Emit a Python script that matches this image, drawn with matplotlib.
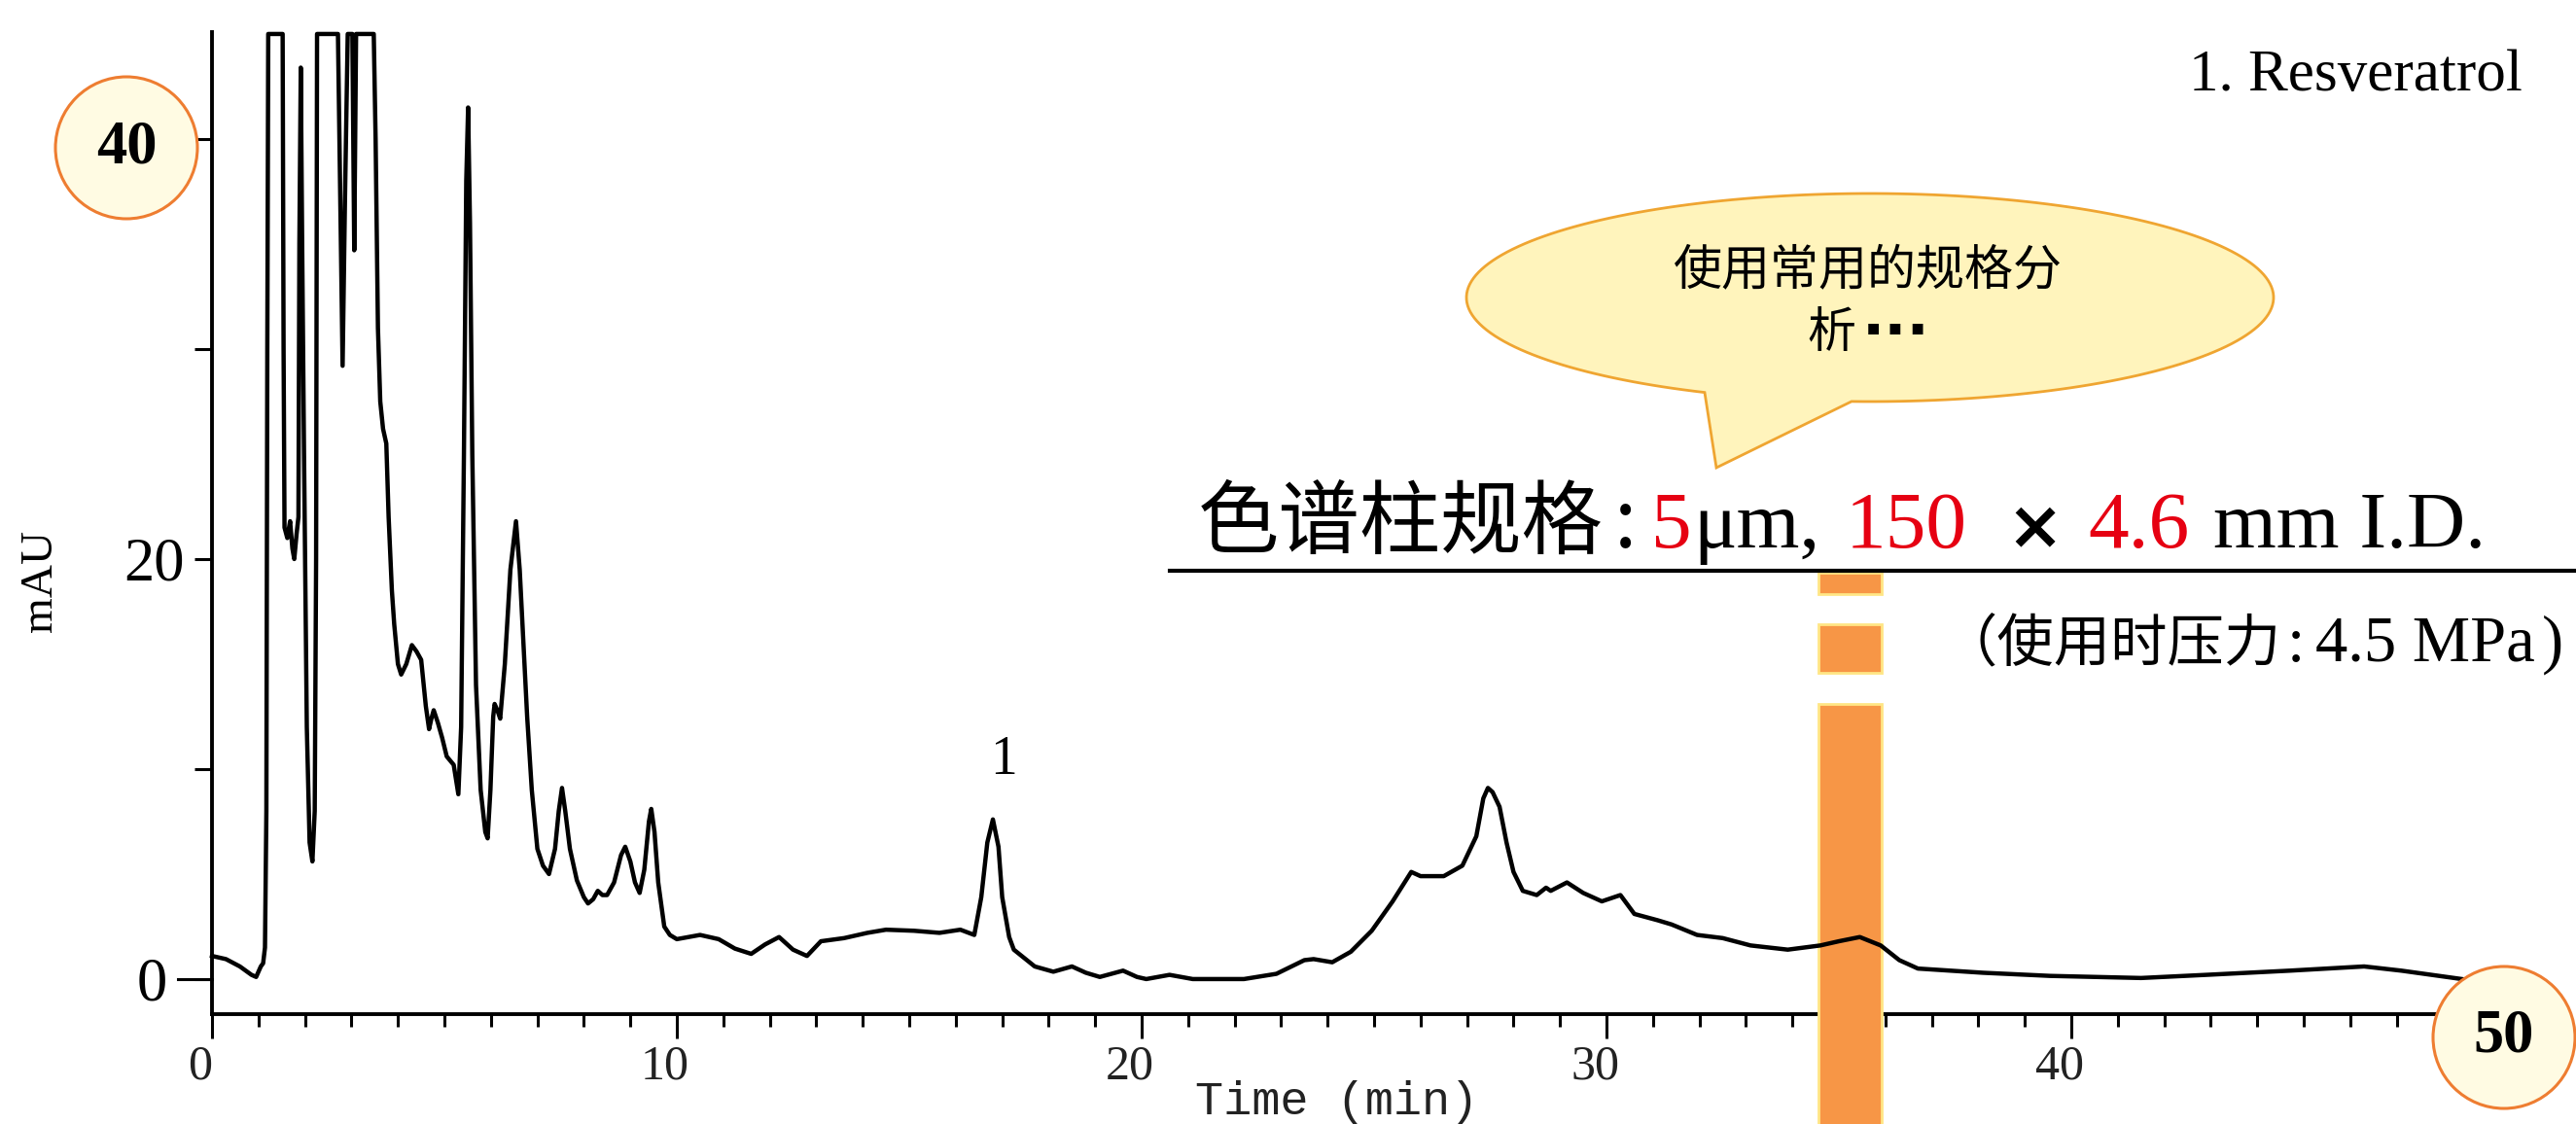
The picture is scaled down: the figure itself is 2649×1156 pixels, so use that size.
import matplotlib
matplotlib.use("Agg")
import matplotlib.pyplot as plt
import matplotlib.transforms as mtransforms
from matplotlib.patches import Ellipse, Rectangle, PathPatch
from matplotlib.path import Path
from matplotlib.lines import Line2D
import numpy as np

# ---------------- data ----------------
time_min = [
    0.00, 0.30, 0.60, 0.85, 0.95, 1.05, 1.10, 1.14, 1.17, 1.19, 1.21, 1.52, 1.54, 1.56,
    1.62, 1.68, 1.73, 1.77, 1.82, 1.86, 1.88, 1.91, 1.94, 1.98, 2.04, 2.10, 2.16, 2.21,
    2.24, 2.26, 2.71, 2.76, 2.81, 2.86, 2.92, 3.02, 3.04, 3.06, 3.08, 3.10, 3.48, 3.52,
    3.57, 3.62, 3.68, 3.75, 3.80, 3.87, 3.92, 4.00, 4.07, 4.18, 4.30, 4.40, 4.50, 4.60,
    4.67, 4.72, 4.77, 4.86, 4.95, 5.05, 5.20, 5.30, 5.36, 5.42, 5.47, 5.51, 5.55, 5.60,
    5.68, 5.78, 5.88, 5.93, 5.99, 6.05, 6.08, 6.14, 6.20, 6.30, 6.42, 6.54, 6.62, 6.70,
    6.78, 6.88, 7.00, 7.12, 7.25, 7.38, 7.46, 7.53, 7.60, 7.70, 7.85, 8.00, 8.09, 8.20,
    8.30, 8.40, 8.50, 8.65, 8.80, 8.89, 9.00, 9.10, 9.20, 9.30, 9.40, 9.45, 9.52, 9.60,
    9.73, 9.85, 10.0, 10.5, 10.9, 11.25, 11.6, 11.9, 12.2, 12.5, 12.8, 13.1, 13.6, 14.1,
    14.5, 15.1, 15.65, 16.1, 16.4, 16.55, 16.68, 16.8, 16.92, 17.0, 17.15, 17.25, 17.7,
    18.1, 18.5, 18.8, 19.1, 19.6, 19.9, 20.1, 20.6, 21.1, 22.2, 22.9, 23.5, 23.7, 24.1,
    24.5, 24.95, 25.4, 25.8, 26.0, 26.5, 26.9, 27.2, 27.35, 27.45, 27.55, 27.7, 27.85,
    28.0, 28.2, 28.5, 28.7, 28.8, 29.15, 29.5, 29.9, 30.3, 30.6, 31.1, 31.4, 31.95, 32.5,
    33.1, 33.9, 34.6, 35.0, 35.45, 35.9, 36.3, 36.7, 38.1, 39.55, 41.5, 42.9, 44.7, 46.3,
    47.1, 48.4, 48.7,
]
absorbance_mau = [
    1.1, 0.95, 0.6, 0.2, 0.1, 0.6, 0.75, 1.5, 8.0, 30.0, 45.0, 45.0, 30.0, 21.5,
    21.0, 21.8, 20.5, 20.0, 21.2, 22.0, 35.0, 43.4, 35.0, 25.0, 12.0, 6.5, 5.6, 8.0,
    20.0, 45.0, 45.0, 37.0, 29.2, 37.0, 45.0, 45.0, 40.0, 34.7, 40.0, 45.0, 45.0, 40.0,
    31.0, 27.5, 26.2, 25.5, 22.0, 18.5, 16.9, 15.0, 14.5, 15.0, 15.9, 15.6, 15.2, 13.0,
    11.9, 12.4, 12.8, 12.2, 11.5, 10.6, 10.2, 8.8, 12.0, 25.0, 38.0, 41.5, 36.0, 25.0,
    14.0, 9.0, 7.0, 6.7, 9.0, 12.5, 13.1, 12.8, 12.4, 15.0, 19.5, 21.8, 19.5, 16.0,
    12.5, 9.0, 6.2, 5.4, 5.0, 6.2, 8.0, 9.1, 8.0, 6.2, 4.7, 3.9, 3.6, 3.8,
    4.2, 4.0, 4.0, 4.6, 5.9, 6.3, 5.6, 4.6, 4.1, 5.2, 7.5, 8.1, 7.0, 4.6,
    2.5, 2.1, 1.9, 2.1, 1.9, 1.45, 1.2, 1.65, 2.0, 1.4, 1.1, 1.8, 1.95, 2.2,
    2.35, 2.3, 2.2, 2.35, 2.1, 3.9, 6.5, 7.6, 6.3, 3.9, 2.0, 1.4, 0.6,
    0.35, 0.6, 0.3, 0.1, 0.4, 0.1, 0.0, 0.2, 0.0, 0.0, 0.25, 0.9, 0.95, 0.8,
    1.3, 2.3, 3.7, 5.1, 4.9, 4.9, 5.4, 6.8, 8.6, 9.1, 8.9, 8.2, 6.5,
    5.1, 4.2, 4.0, 4.35, 4.2, 4.6, 4.1, 3.7, 4.0, 3.1, 2.8, 2.6, 2.1, 1.95,
    1.6, 1.4, 1.6, 1.8, 2.0, 1.6, 0.9, 0.5, 0.3, 0.15, 0.05, 0.2, 0.4, 0.6,
    0.4, 0.0, -0.1,
]

x_major_ticks = [0, 10, 20, 30, 40, 50]
x_major_labels = ["0", "10", "20", "30", "40", ""]
y_major_ticks = [0, 20, 40]
y_major_labels = ["0", "20", ""]
y_minor_ticks = [10, 30]

peak_time = 16.8
peak_height = 7.6
peak_name = "1"
compound_legend = "1. Resveratrol"
corner_marks = ["40", "50"]

# ---------------- figure ----------------
W, H, DPI = 2649, 1156, 100
fig = plt.figure(figsize=(W / DPI, H / DPI), dpi=DPI, facecolor="white")


def fx(px):
    return px / W


def fy(py):
    return 1 - py / H


SERIF = "Liberation Serif"
CJK = ["Noto Sans CJK SC", "DejaVu Sans"]
RED = "#E60012"

ax = fig.add_axes([fx(218), fy(1043), fx(2608) - fx(218), fy(33) - fy(1043)])
ax.set_facecolor("none")

ax.plot(time_min, absorbance_mau, color="black", lw=3.2, zorder=4,
        solid_joinstyle="round", clip_on=False)
ax.set_xlim(0, 50)
ax.set_ylim(-1.67, 45.09)

for side in ("top", "right"):
    ax.spines[side].set_visible(False)
for side in ("left", "bottom"):
    ax.spines[side].set_linewidth(2.8)

ax.set_xticks(x_major_ticks)
ax.set_xticklabels(x_major_labels)
ax.set_xticks(np.arange(0, 51, 1), minor=True)
ax.set_yticks(y_major_ticks)
ax.set_yticklabels(y_major_labels)
ax.set_yticks(y_minor_ticks, minor=True)

ax.tick_params(axis="x", which="major", direction="out", length=18, width=2.2,
               pad=4, labelsize=36, labelcolor="#222222")
ax.tick_params(axis="x", which="minor", direction="out", length=9.4, width=2.2)
ax.tick_params(axis="y", which="major", direction="out", length=13, width=2.2,
               pad=7, labelsize=45)
ax.tick_params(axis="y", which="minor", direction="out", length=13, width=2.2)
for lbl in ax.get_xticklabels() + ax.get_yticklabels():
    lbl.set_fontfamily(SERIF)

# x labels sit slightly left of their ticks
shift_x = mtransforms.ScaledTranslation(-12 / DPI, 0, fig.dpi_scale_trans)
for lbl in ax.get_xticklabels():
    lbl.set_transform(lbl.get_transform() + shift_x)

# longer tick at the zero line
ytrans = mtransforms.blended_transform_factory(ax.transAxes, ax.transData)
ax.add_line(Line2D([-35 / 2390, 0], [0, 0], transform=ytrans, color="black",
                   lw=2.2, clip_on=False))
shift_y0 = mtransforms.ScaledTranslation(-18 / DPI, 0, fig.dpi_scale_trans)
for lbl in ax.get_yticklabels():
    if lbl.get_text() == "0":
        lbl.set_transform(lbl.get_transform() + shift_y0)

fig.text(fx(42), fy(597), "mAU", rotation=90, fontsize=34, family=SERIF,
         ha="center", va="center")
fig.text(fx(1229), fy(1146), "Time (min)", fontsize=35, family="Liberation Mono",
         ha="left", va="baseline", color="#222222")

# peak number
ax.annotate(peak_name, xy=(peak_time, peak_height), xytext=(8, 44),
            textcoords="offset points", ha="center", va="center",
            fontsize=40, family=SERIF)

fig.text(fx(2251), fy(93), compound_legend, fontsize=44, family=SERIF,
         ha="left", va="baseline")

# orange marker band around 35 min
band = mtransforms.blended_transform_factory(ax.transData, fig.transFigure)
band_x0, band_x1 = 34.56, 35.92
for top, bottom in [(589, 611), (642, 692), (724, 1170)]:
    ax.add_patch(Rectangle((band_x0, fy(bottom)), band_x1 - band_x0,
                           fy(top) - fy(bottom), transform=band,
                           facecolor="#F79646", edgecolor="#FFE685", lw=2,
                           clip_on=False, zorder=3))
ax.set_xlim(0, 50)
ax.set_ylim(-1.67, 45.09)

# circled axis-end values
for (cx, cy), txt in zip([(130, 152), (2575, 1067)], corner_marks):
    fig.add_artist(Ellipse((fx(cx), fy(cy)), 146 / W, 146 / H,
                           transform=fig.transFigure, facecolor="#FFFBE3",
                           edgecolor="#EE7D31", lw=2.2, zorder=5))
    fig.text(fx(cx), fy(cy), txt, fontsize=45, family=SERIF, weight="bold",
             ha="center", va="center", zorder=6)

# speech bubble
bcx, bcy, ba, bb = 1923, 306, 415, 107
tip = (1765, 481)
th0 = np.degrees(np.arctan2((403.6 - bcy) / bb, (1753 - bcx) / ba))
th1 = np.degrees(np.arctan2((412.9 - bcy) / bb, (1904 - bcx) / ba)) + 360
theta = np.radians(np.linspace(th0, th1, 200))
px = bcx + ba * np.cos(theta)
py = bcy + bb * np.sin(theta)
verts = [(fx(x), fy(y)) for x, y in zip(px, py)]
verts += [(fx(tip[0]), fy(tip[1])), verts[0]]
codes = [Path.MOVETO] + [Path.LINETO] * (len(verts) - 2) + [Path.CLOSEPOLY]
fig.add_artist(PathPatch(Path(verts, codes), transform=fig.transFigure,
                         facecolor="#FFF4BC", edgecolor="#EFA531", lw=2,
                         zorder=5))
fig.text(fx(1921), fy(278), "使用常用的规格分", fontsize=36, family=CJK,
         ha="center", va="center", zorder=6)
fig.text(fx(1883), fy(343), "析", fontsize=36, family=CJK,
         ha="center", va="center", zorder=6)
fig.text(fx(1950), fy(343), "···", fontsize=44, family="DejaVu Sans",
         weight="bold", ha="center", va="center", zorder=6)

# column specification
spec_runs = [
    (1232, "色谱柱规格", CJK, "black", 60, "normal"),
    (1660, ":", CJK, "black", 60, "normal"),
    (1698, "5", SERIF, RED, 60, "normal"),
    (1741, "μm,", SERIF, "black", 60, "normal"),
    (1898, "150", SERIF, RED, 60, "normal"),
    (2147, "4.6", SERIF, RED, 60, "normal"),
    (2276, "mm I.D.", SERIF, "black", 60, "normal"),
]
for x0, txt, fam, col, size, wt in spec_runs:
    fig.text(fx(x0), fy(563), txt, fontsize=size, family=fam, color=col,
             weight=wt, ha="left", va="baseline")
fig.text(fx(2092), fy(563), "×", fontsize=50, family="DejaVu Sans",
         weight="bold", color="black", ha="center", va="baseline")
fig.add_artist(Line2D([fx(1203), fx(2649)], [fy(587), fy(587)],
                      transform=fig.transFigure, color="black", lw=3))

pressure_runs = [
    (1995, "（使用时压力", CJK, 42),
    (2353, ":", CJK, 42),
    (2381, "4.5 MPa", SERIF, 48),
    (2614, ")", SERIF, 48),
]
for x0, txt, fam, size in pressure_runs:
    fig.text(fx(x0), fy(680), txt, fontsize=size, family=fam, color="black",
             ha="left", va="baseline")

fig.savefig("out.png", dpi=DPI, facecolor="white")
